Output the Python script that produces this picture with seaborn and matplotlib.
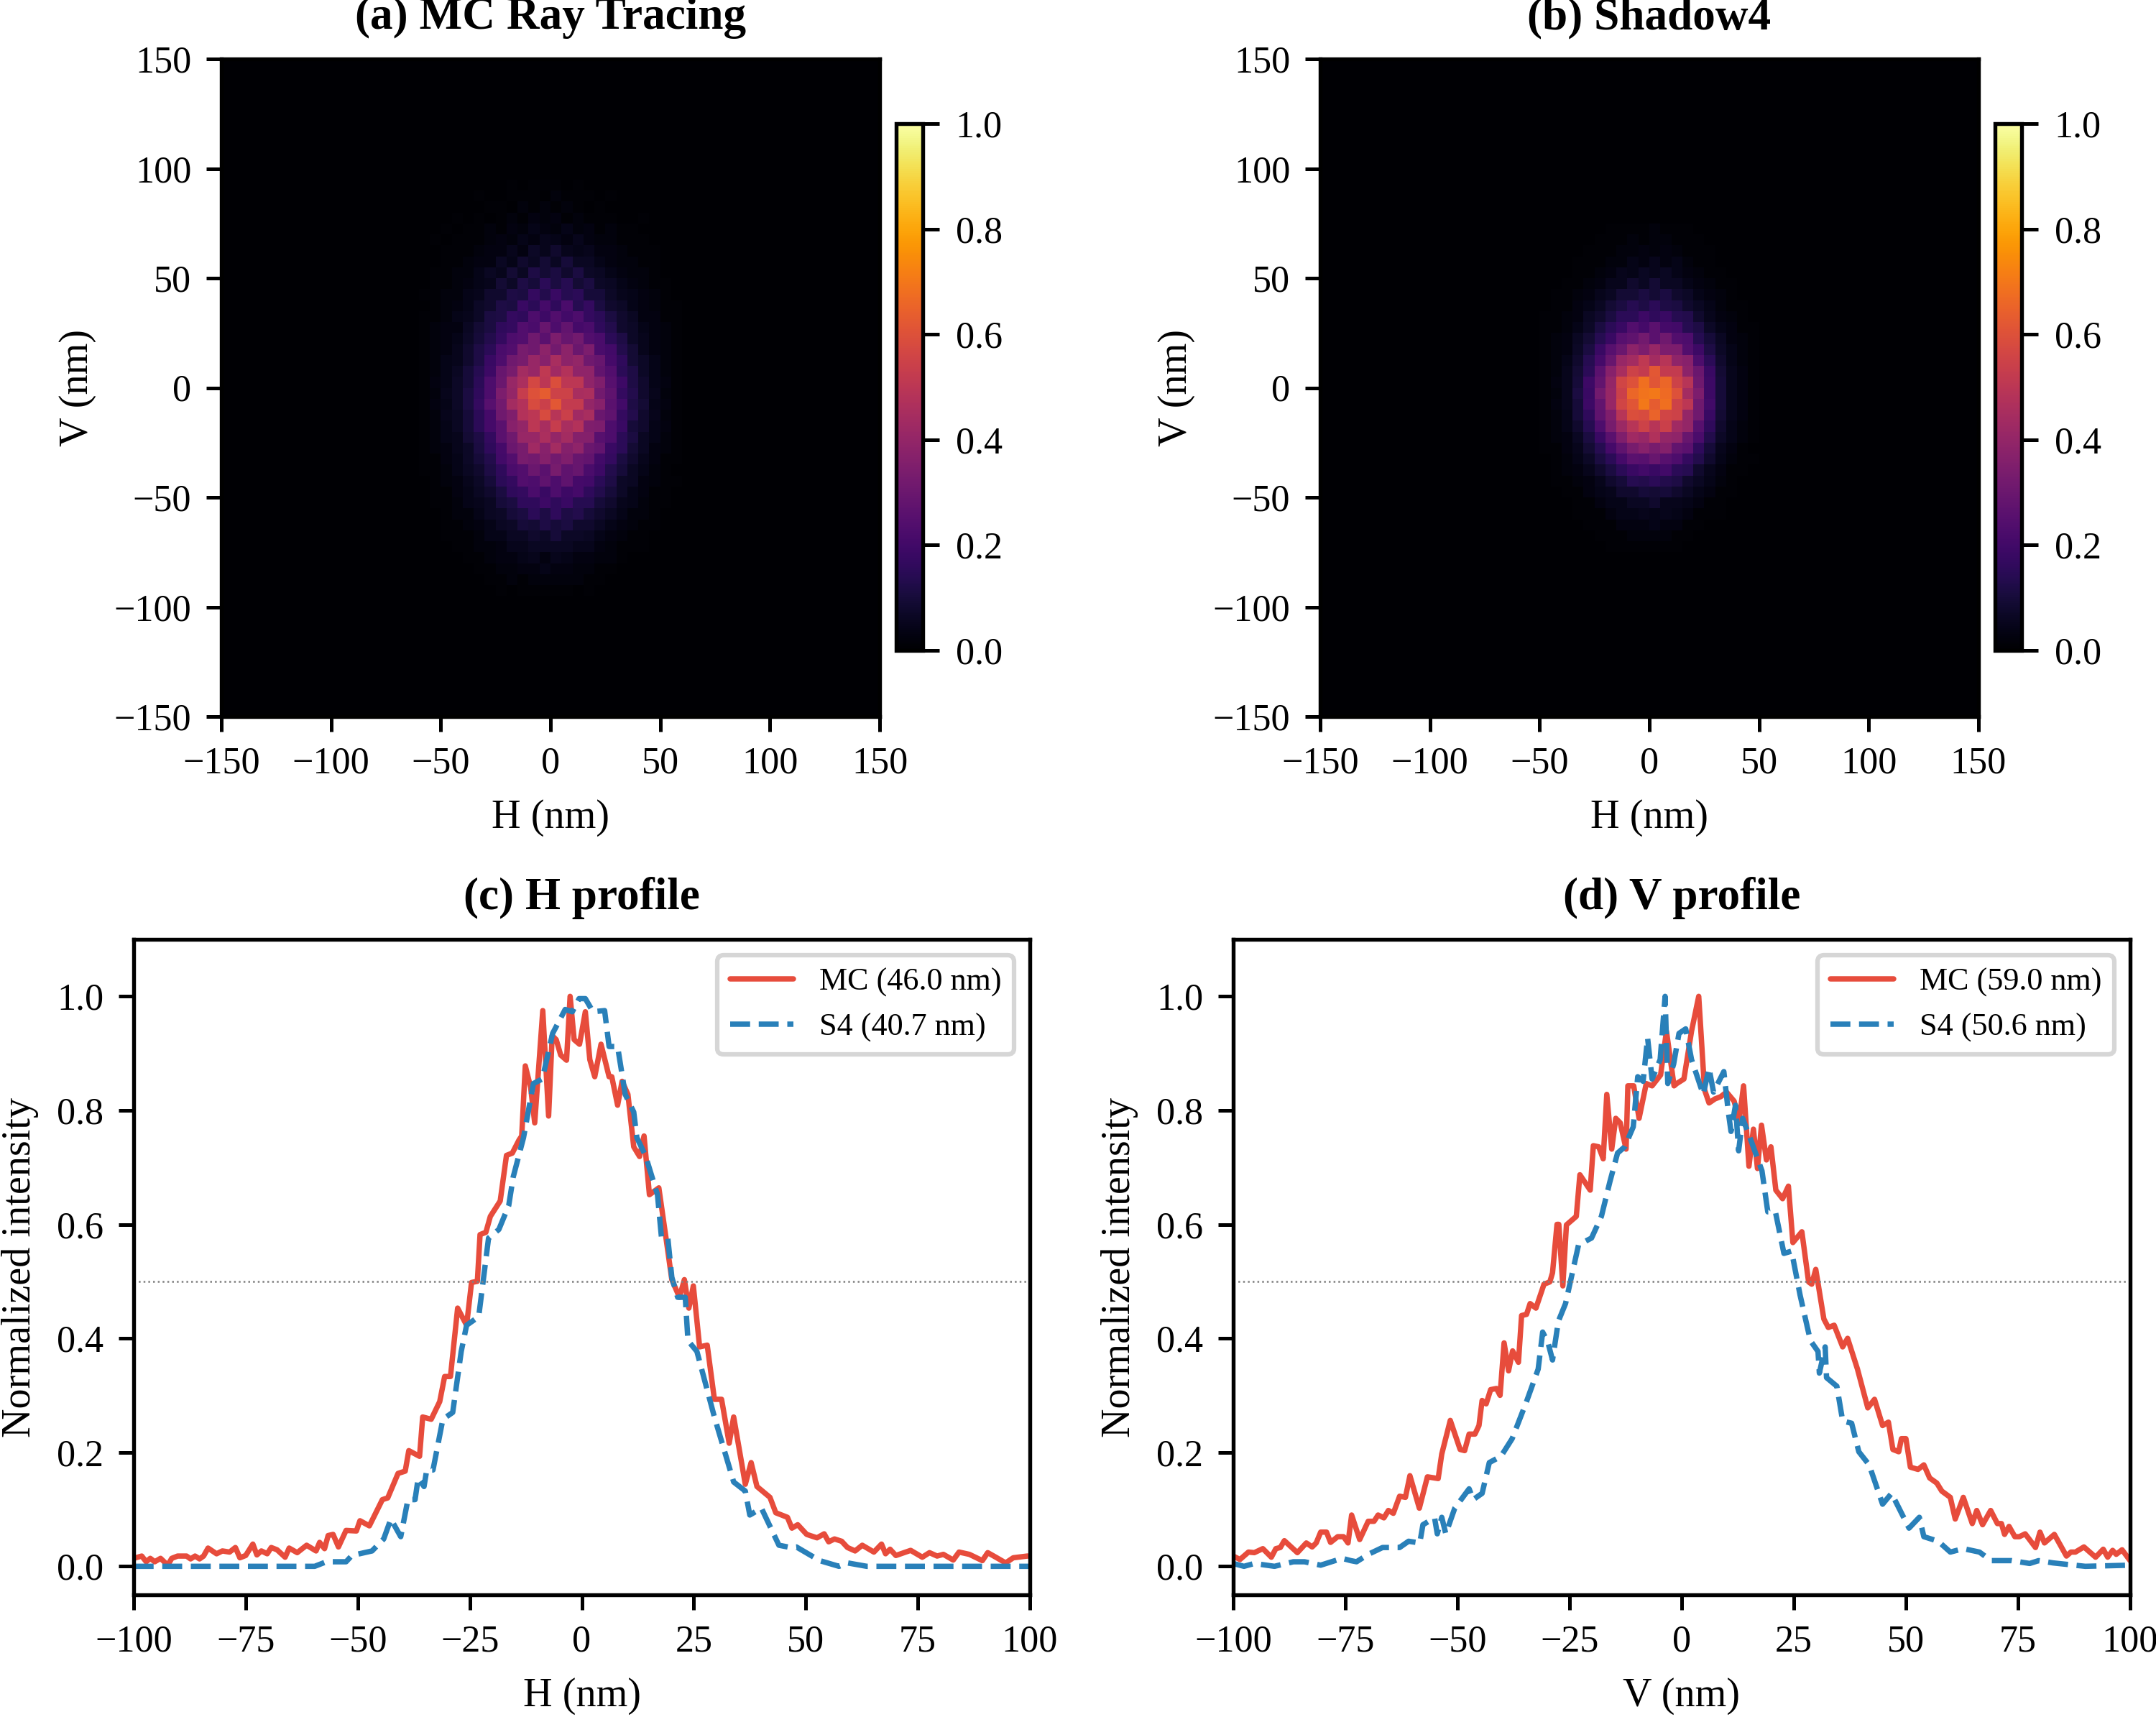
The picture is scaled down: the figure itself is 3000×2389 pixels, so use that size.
import numpy as np
import matplotlib
matplotlib.use('Agg')
import matplotlib.pyplot as plt
import seaborn as sns

# Spot maps, percent of peak, read in 5 nm cells (H -60..60 left to right, top row is the largest V)
spot_mc = [
    [0, 0, 0, 0, 0, 0, 0, 0, 1, 0, 1, 1, 1, 0, 1, 0, 0, 0, 0, 0, 0, 0, 0, 0],
    [0, 0, 0, 0, 0, 1, 0, 0, 1, 1, 1, 0, 2, 1, 1, 1, 0, 1, 0, 0, 0, 0, 0, 0],
    [0, 0, 0, 0, 0, 0, 1, 1, 0, 2, 1, 2, 1, 2, 1, 0, 1, 0, 0, 0, 0, 0, 0, 0],
    [0, 0, 0, 1, 0, 1, 0, 1, 2, 1, 3, 2, 3, 1, 2, 1, 1, 1, 0, 0, 1, 0, 0, 0],
    [0, 0, 1, 0, 1, 1, 2, 1, 3, 2, 4, 3, 2, 4, 2, 3, 1, 2, 1, 1, 0, 0, 0, 0],
    [0, 1, 0, 1, 1, 1, 2, 3, 2, 4, 3, 5, 4, 3, 5, 3, 2, 2, 1, 1, 1, 0, 0, 0],
    [0, 0, 1, 1, 1, 2, 3, 3, 5, 3, 7, 5, 8, 5, 4, 5, 3, 3, 2, 1, 1, 1, 0, 0],
    [0, 0, 1, 1, 2, 3, 3, 6, 4, 8, 6, 9, 6, 10, 6, 6, 4, 3, 2, 2, 1, 1, 0, 0],
    [0, 1, 1, 2, 2, 4, 6, 5, 9, 6, 12, 9, 11, 8, 11, 7, 6, 4, 3, 2, 2, 1, 0, 0],
    [0, 1, 1, 2, 3, 4, 5, 9, 7, 12, 10, 15, 11, 14, 9, 11, 7, 6, 4, 3, 2, 1, 1, 0],
    [1, 1, 2, 2, 4, 5, 8, 8, 12, 11, 17, 13, 18, 14, 15, 10, 10, 7, 5, 4, 3, 2, 1, 0],
    [0, 1, 2, 3, 4, 7, 8, 12, 11, 18, 15, 21, 16, 22, 14, 17, 11, 8, 7, 4, 3, 2, 1, 1],
    [1, 1, 2, 4, 5, 7, 11, 12, 17, 16, 23, 19, 24, 20, 23, 17, 15, 11, 8, 6, 3, 3, 1, 1],
    [1, 2, 3, 3, 6, 9, 11, 16, 17, 24, 22, 29, 23, 28, 21, 22, 16, 13, 8, 7, 4, 3, 2, 1],
    [1, 2, 3, 4, 7, 10, 13, 17, 23, 24, 31, 26, 34, 29, 32, 24, 22, 15, 12, 7, 5, 3, 2, 1],
    [1, 2, 3, 5, 8, 12, 15, 22, 24, 33, 31, 38, 32, 38, 30, 34, 22, 20, 13, 9, 5, 3, 2, 1],
    [1, 2, 4, 5, 8, 12, 18, 23, 31, 33, 41, 37, 45, 38, 40, 31, 29, 21, 16, 9, 7, 4, 2, 1],
    [1, 2, 4, 6, 10, 14, 19, 29, 33, 44, 41, 51, 43, 48, 39, 39, 28, 24, 15, 12, 7, 4, 2, 1],
    [1, 3, 4, 7, 10, 15, 23, 30, 41, 46, 57, 50, 59, 50, 50, 39, 35, 25, 19, 12, 8, 4, 3, 1],
    [1, 2, 5, 7, 11, 16, 23, 34, 40, 53, 60, 63, 55, 55, 45, 46, 32, 27, 17, 13, 8, 5, 2, 1],
    [1, 3, 4, 7, 11, 17, 25, 32, 44, 48, 58, 54, 62, 52, 52, 40, 37, 26, 20, 12, 9, 4, 3, 1],
    [1, 2, 5, 6, 10, 15, 21, 31, 35, 48, 50, 58, 49, 54, 43, 45, 30, 27, 17, 13, 8, 5, 2, 1],
    [1, 2, 4, 6, 10, 15, 21, 26, 37, 40, 50, 45, 53, 45, 48, 35, 34, 23, 18, 10, 8, 4, 3, 1],
    [1, 2, 4, 5, 9, 12, 17, 26, 31, 41, 41, 46, 40, 44, 36, 36, 25, 23, 15, 11, 6, 4, 2, 1],
    [1, 2, 3, 5, 7, 11, 16, 21, 30, 33, 43, 37, 44, 36, 39, 30, 28, 18, 15, 9, 6, 3, 2, 1],
    [1, 1, 3, 4, 7, 10, 13, 20, 24, 33, 32, 36, 32, 35, 29, 28, 20, 17, 11, 8, 5, 3, 1, 1],
    [1, 1, 2, 4, 6, 8, 12, 16, 22, 24, 30, 26, 33, 27, 29, 22, 19, 13, 10, 6, 4, 2, 1, 0],
    [0, 1, 2, 3, 5, 7, 10, 15, 17, 24, 23, 27, 23, 27, 21, 20, 15, 12, 7, 6, 3, 2, 1, 1],
    [0, 1, 1, 3, 4, 6, 8, 11, 16, 17, 22, 18, 23, 19, 21, 16, 13, 10, 7, 4, 3, 1, 1, 0],
    [0, 1, 1, 2, 4, 5, 6, 10, 11, 16, 16, 19, 16, 18, 14, 14, 10, 8, 5, 4, 2, 1, 1, 0],
    [0, 0, 1, 2, 2, 4, 6, 7, 10, 11, 15, 12, 16, 12, 13, 10, 8, 6, 4, 2, 2, 1, 0, 0],
    [0, 0, 1, 1, 2, 3, 4, 6, 7, 10, 9, 12, 10, 11, 8, 8, 6, 4, 3, 2, 1, 1, 0, 0],
    [0, 0, 1, 1, 1, 2, 4, 4, 6, 6, 8, 7, 10, 7, 7, 6, 4, 3, 2, 1, 1, 0, 0, 0],
    [0, 0, 0, 1, 1, 2, 2, 3, 5, 5, 6, 6, 6, 6, 5, 5, 3, 2, 1, 1, 1, 0, 0, 0],
    [0, 0, 0, 0, 1, 1, 2, 3, 3, 4, 5, 3, 5, 4, 3, 3, 2, 2, 1, 0, 0, 0, 0, 0],
    [0, 0, 0, 0, 0, 1, 1, 2, 2, 3, 3, 4, 3, 3, 2, 2, 1, 1, 0, 0, 0, 0, 0, 0],
    [0, 0, 0, 0, 0, 0, 1, 1, 2, 1, 2, 2, 2, 2, 2, 1, 1, 0, 0, 0, 0, 0, 0, 0],
    [0, 0, 0, 0, 0, 0, 0, 1, 0, 1, 1, 1, 1, 1, 0, 1, 0, 0, 0, 0, 0, 0, 0, 0],
]
spot_s4 = [
    [0, 0, 0, 0, 0, 0, 0, 0, 1, 1, 1, 1, 2, 1, 1, 1, 0, 0, 0, 0, 0, 0, 0, 0],
    [0, 0, 0, 0, 0, 0, 0, 1, 1, 1, 2, 1, 2, 2, 1, 1, 1, 0, 0, 0, 0, 0, 0, 0],
    [0, 0, 0, 0, 0, 0, 1, 1, 1, 2, 2, 3, 2, 3, 2, 1, 1, 1, 0, 0, 0, 0, 0, 0],
    [0, 0, 0, 0, 0, 1, 1, 1, 2, 2, 4, 3, 5, 3, 4, 2, 1, 1, 0, 0, 0, 0, 0, 0],
    [0, 0, 0, 0, 0, 1, 1, 2, 3, 5, 4, 6, 5, 6, 4, 3, 2, 1, 1, 0, 0, 0, 0, 0],
    [0, 0, 0, 0, 1, 1, 2, 3, 5, 5, 8, 6, 9, 6, 6, 4, 3, 2, 1, 1, 0, 0, 0, 0],
    [0, 0, 0, 1, 1, 2, 3, 5, 6, 9, 9, 11, 9, 11, 8, 7, 4, 3, 2, 1, 0, 0, 0, 0],
    [0, 0, 0, 1, 1, 3, 4, 6, 9, 11, 14, 12, 15, 12, 11, 8, 6, 4, 2, 1, 1, 0, 0, 0],
    [0, 0, 1, 1, 2, 3, 6, 8, 11, 15, 15, 19, 16, 18, 14, 13, 8, 5, 3, 2, 1, 0, 0, 0],
    [0, 0, 1, 1, 2, 4, 7, 11, 15, 18, 24, 21, 26, 21, 20, 14, 12, 7, 4, 3, 1, 1, 0, 0],
    [0, 0, 1, 2, 3, 6, 9, 14, 18, 25, 27, 32, 26, 31, 24, 23, 14, 10, 6, 3, 2, 1, 0, 0],
    [0, 0, 1, 2, 3, 7, 11, 18, 25, 30, 38, 34, 41, 34, 34, 24, 19, 12, 7, 4, 2, 1, 0, 0],
    [0, 0, 1, 2, 4, 8, 14, 21, 29, 41, 44, 51, 44, 49, 39, 37, 23, 15, 8, 4, 2, 1, 0, 0],
    [0, 0, 1, 2, 5, 9, 15, 26, 37, 45, 55, 52, 62, 52, 52, 38, 30, 18, 9, 5, 3, 1, 0, 0],
    [0, 0, 1, 3, 5, 10, 19, 28, 40, 56, 60, 68, 61, 66, 55, 49, 31, 19, 10, 5, 3, 1, 0, 0],
    [0, 0, 1, 2, 5, 11, 18, 32, 41, 54, 66, 69, 70, 67, 60, 44, 34, 19, 10, 5, 3, 1, 0, 0],
    [0, 0, 1, 3, 5, 10, 19, 28, 41, 56, 61, 70, 63, 68, 55, 50, 31, 20, 10, 5, 3, 1, 0, 0],
    [0, 0, 1, 2, 4, 10, 16, 27, 35, 49, 59, 58, 65, 56, 55, 40, 31, 18, 9, 5, 3, 1, 0, 0],
    [0, 0, 1, 2, 4, 8, 14, 23, 33, 42, 49, 55, 49, 54, 43, 40, 25, 16, 8, 4, 2, 1, 0, 0],
    [0, 0, 1, 2, 3, 6, 11, 18, 26, 35, 43, 41, 47, 40, 39, 29, 22, 13, 7, 4, 2, 1, 0, 0],
    [0, 0, 1, 1, 3, 5, 9, 14, 21, 27, 33, 37, 33, 36, 28, 26, 16, 10, 5, 3, 1, 0, 0, 0],
    [0, 0, 0, 1, 2, 4, 7, 11, 15, 21, 26, 25, 29, 25, 23, 17, 13, 8, 4, 2, 1, 1, 0, 0],
    [0, 0, 0, 1, 2, 3, 5, 8, 11, 15, 18, 20, 18, 20, 15, 14, 8, 5, 3, 1, 1, 0, 0, 0],
    [0, 0, 0, 1, 1, 2, 3, 5, 8, 10, 14, 13, 15, 13, 12, 8, 6, 4, 2, 1, 0, 0, 0, 0],
    [0, 0, 0, 0, 1, 1, 3, 4, 5, 8, 8, 10, 9, 10, 8, 6, 4, 3, 1, 1, 0, 0, 0, 0],
    [0, 0, 0, 0, 0, 1, 1, 3, 4, 4, 6, 6, 8, 5, 5, 4, 3, 1, 1, 0, 0, 0, 0, 0],
    [0, 0, 0, 0, 0, 1, 1, 1, 3, 4, 4, 5, 4, 5, 4, 3, 1, 1, 1, 0, 0, 0, 0, 0],
    [0, 0, 0, 0, 0, 0, 1, 1, 1, 3, 3, 3, 4, 3, 3, 1, 1, 0, 0, 0, 0, 0, 0, 0],
    [0, 0, 0, 0, 0, 0, 0, 1, 1, 1, 2, 2, 2, 2, 1, 1, 0, 0, 0, 0, 0, 0, 0, 0],
    [0, 0, 0, 0, 0, 0, 0, 0, 1, 1, 1, 1, 1, 1, 1, 0, 0, 0, 0, 0, 0, 0, 0, 0],
]

# H profile, Monte Carlo
h_mc_x = [-100, -98.2, -97.2, -96.3, -95.3, -94, -92.4, -91.5, -90.2, -88.2, -87.3, -86.3, -85.3, -84.4, -83.4, -81.5,
          -80.2, -78.6, -77.3, -76.3, -75, -73.4, -72.5, -71.5, -70.2, -69.3, -68, -66.2, -65.3, -63.5, -61.4, -59.3,
          -58.5, -57.4, -56.6, -55.5, -54.3, -52.6, -50.3, -49.5, -47.4, -44.5, -43.3, -41, -39.4, -38.6, -36.2, -35.5,
          -33.6, -31.7, -30.6, -29.3, -27.7, -25.7, -24.6, -23.3, -22.7, -21.4, -20.4, -18.2, -16.8, -15.5, -14, -13.4,
          -12.6, -11.4, -10.5, -8.7, -7.4, -6.6, -5.7, -4.7, -3.4, -2.6, -1.7, -0.5, 0.8, 1.8, 2.9, 4.3, 6.1, 6.7, 8, 9,
          10.3, 11.6, 12.9, 13.9, 15.1, 17.2, 18.8, 20.1, 21.8, 22.9, 23.9, 24.9, 26.3, 28, 29.6, 31.2, 32.9, 33.9, 36.5,
          37.8, 39.1, 42, 43.3, 45.9, 46.9, 48.2, 50.2, 52.5, 54.1, 55.1, 56.4, 58, 59.3, 61, 62.6, 65.2, 66.9, 67.8,
          68.8, 70.1, 73.4, 76, 77.6, 79.3, 80.7, 82.9, 84.2, 86.5, 89.4, 90.6, 92.4, 94.6, 96.3, 99.4, 100]
h_mc_y = [.014, .018, .008, .014, .008, .014, .002, .014, .018, .018, .013, .018, .013, .018, .032, .022,
          .027, .025, .033, .015, .019, .039, .02, .027, .022, .033, .029, .016, .032, .024, .037, .027,
          .042, .031, .054, .056, .034, .063, .062, .08, .071, .117, .12, .163, .167, .203, .193, .262,
          .258, .289, .333, .333, .453, .423, .498, .5, .582, .586, .614, .641, .721, .725, .748, .755,
          .878, .84, .778, .975, .79, .931, .924, .897, .888, 1.0, .924, .916, .973, .889, .859, .916, .859, .859, .809, .851,
          .828, .736, .719, .755, .652, .664, .576, .503, .472, .503, .453, .492, .385, .388, .293, .293, .216, .262, .144,
          .182, .14, .121, .094, .086, .067, .073, .056, .05, .057, .043, .048, .044, .033, .027, .037, .025, .039, .022,
          .03, .019, .028, .016, .024, .018, .021, .011, .025, .021, .01, .024, .016, .006, .015, .018, .018]

# H profile, Shadow4
h_s4_x = [-100, -98.8, -59.6, -57, -52.6, -51.3, -46.8, -44.2, -42.6, -40.4, -38.8, -37.2, -36.5, -35.2, -34.6, -33.2,
          -31, -28.8, -26.9, -25.7, -23, -20.8, -18.5, -16.3, -15.3, -13, -10.8, -8.8, -6.5, -3.7, -2.1, -0.6, 0.8, 2.5,
          5.1, 6.1, 8, 9.7, 11.6, 12.3, 14.2, 16.9, 17.8, 19.2, 20.1, 21.4, 23.1, 23.7, 25.7, 29.6, 33.9, 36.5, 37.5,
          40.1, 44, 46.6, 47.9, 53.1, 57.4, 59.3, 63.6, 100]
h_s4_y = [0, 0, 0, .008, .008, .019, .027, .048, .083, .052, .117, .117, .155, .14, .169, .169,
          .258, .27, .377, .423, .438, .576, .591, .633, .683, .752, .847, .855, .935, .977, .973, .996, .996, .973,
          .975, .912, .912, .828, .797, .752, .721, .652, .576, .576, .507, .472, .472, .396, .377, .262, .148, .132, .09,
          .102, .037, .033, .034, .01, 0, .006, 0, 0]

# V profile, Monte Carlo
v_mc_x = [-100, -98.5, -96.6, -95.3, -93.4, -91.5, -90.5, -89.5, -88.6, -85.7, -83.7, -82.4, -81.5, -80.5, -79.2, -78.3,
          -76.7, -75.4, -74.4, -73.6, -71.8, -69.9, -68.6, -67.7, -66.4, -65.4, -64.3, -62.9, -61.6, -60.6, -58.5, -56.7,
          -54.3, -53.5, -51.6, -49.4, -48.4, -47.4, -46.1, -45.2, -44.5, -43.6, -42.6, -41.3, -40.5, -39.6, -38.6, -37.7,
          -36.4, -35.7, -34.6, -33.8, -32.5, -30.7, -29.4, -28.8, -27.8, -27.4, -26.5, -25.7, -23.5, -22.7, -20.4, -19.7,
          -18.5, -17.5, -16.7, -15.6, -14.7, -13.7, -12.4, -12, -10.7, -9.5, -7.9, -6.6, -4.7, -3.4, -1.7, -1.1, 0.5, 2.2,
          3.8, 5.1, 6.1, 7.4, 8.7, 10, 11.7, 12.8, 13.8, 15, 16, 16.9, 17.8, 18.9, 19.9, 21, 22.5, 23.8, 24.8, 26.8, 28.3,
          29, 29.9, 31.7, 32.7, 34, 35.9, 37, 39.2, 41.5, 43, 44.8, 46.1, 47.1, 48.4, 49, 50, 51, 52.7, 54, 55.3, 56.9, 58,
          59.9, 61, 62.8, 64.8, 65.8, 67.1, 68.9, 70.4, 71.3, 72, 73, 74.3, 75.3, 76.6, 78.9, 79.9, 80.9, 83.1, 85.8, 86.8,
          87.8, 89.7, 92.3, 94, 95, 96.1, 96.9, 98.2, 100]
v_mc_y = [.018, .012, .025, .024, .031, .016, .031, .033, .045, .024, .041, .034, .041, .06, .06, .042,
          .052, .052, .041, .09, .047, .079, .079, .09, .085, .098, .093, .123, .121, .159, .102, .157,
          .154, .197, .256, .205, .203, .232, .232, .247, .291, .285, .31, .312, .3, .392, .343, .378,
          .358, .44, .442, .461, .453, .495, .499, .515, .6, .6, .492, .599, .614, .687, .66, .738,
          .736, .715, .828, .732, .786, .778, .732, .843, .843, .786, .847, .843, .862, .939, .843, .847, .855, .939,
          1.0, .836, .813, .82, .824, .832, .816, .782, .843, .702, .767, .698, .774, .713, .736, .66, .645, .667, .568, .587, .499,
          .495, .521, .434, .419, .423, .385, .4, .346, .278, .293, .247, .253, .205, .201, .224, .224, .174, .17, .178, .155, .146, .132,
          .121, .083, .121, .075, .098, .073, .098, .075, .075, .056, .07, .052, .052, .057, .033, .06, .041, .056, .018, .025,
          .025, .034, .016, .03, .016, .028, .021, .029, .01]

# V profile, Shadow4
v_s4_x = [-100, -97.6, -95.3, -90.8, -86.6, -84.1, -80.5, -75.7, -73.8, -72.5, -69.9, -66.7, -62.9, -60.9, -58.4, -57.7,
          -55.1, -54.5, -53.5, -52.6, -50.6, -47.4, -46.5, -44.5, -42.9, -40.3, -37.8, -34.6, -32, -31, -29.8, -28.8,
          -27.5, -25.9, -23, -20.1, -17.9, -16, -14.3, -12.7, -10.8, -9.8, -8.6, -7.6, -6.6, -4.8, -3.7, -3.1, -1.8, -0.6,
          0.9, 2.2, 4.8, 6.1, 7.1, 9.4, 10.4, 11, 12, 12.7, 13.6, 15.6, 17.9, 19.2, 20.9, 22.8, 24.5, 26.4, 28.7, 30.4,
          30.7, 32, 32.3, 34.6, 35.9, 37.9, 39.5, 41.8, 44.8, 46.8, 50.7, 53, 54, 57.2, 59.9, 62.8, 66.4, 69, 73.6, 77.6,
          79.6, 82.8, 90, 100]
v_s4_y = [.005, 0, .005, 0, .008, .008, .002, .014, .01, .008, .021, .033, .033, .044, .041, .073,
          .085, .057, .086, .057, .102, .136, .117, .128, .182, .193, .224, .289, .346, .411, .392, .362,
          .43, .461, .564, .576, .614, .675, .725, .736, .771, .859, .851, .927, .855, .889, 1.0, .847, .881, .935,
          .943, .889, .828, .874, .832, .868, .797, .763, .809, .729, .786, .744, .694, .622, .622, .549, .553, .476, .396, .377,
          .339, .385, .331, .316, .255, .251, .201, .178, .109, .128, .067, .086, .052, .044, .025, .031, .025, .01, .01, .005,
          .01, .006, 0, .002]

map_ticks = [-150, -100, -50, 0, 50, 100, 150]
profile_ticks = [-100, -75, -50, -25, 0, 25, 50, 75, 100]
titles = ['(a) MC Ray Tracing', '(b) Shadow4', '(c) H profile', '(d) V profile']
legend_h = ['MC (46.0 nm)', 'S4 (40.7 nm)']
legend_v = ['MC (59.0 nm)', 'S4 (50.6 nm)']

RED = '#e74c3c'
BLUE = '#2980b9'
W, H = 3000, 2389

sns.set_theme(style='ticks')
plt.rcParams['font.family'] = ['Liberation Serif']
plt.rcParams['font.size'] = 12
plt.rcParams['axes.linewidth'] = 1.3
plt.rcParams['xtick.color'] = 'black'
plt.rcParams['ytick.color'] = 'black'
plt.rcParams['text.color'] = 'black'
plt.rcParams['axes.labelcolor'] = 'black'


def box(x0, y0, x1, y1):
    return [x0 / W, 1 - y1 / H, (x1 - x0) / W, (y1 - y0) / H]


def minus(v):
    return f'{v}'.replace('-', '\u2212')


fig = plt.figure(figsize=(10, 2389 / 300))

# top row: spot maps
for spot, title, ax_box, cb_box in [
    (spot_mc, titles[0], box(308, 82, 1224, 997), box(1247, 172, 1284, 905)),
    (spot_s4, titles[1], box(1837, 82, 2753, 997), box(2776, 172, 2813, 905)),
]:
    ax = fig.add_axes(ax_box)
    cax = fig.add_axes(cb_box)
    # pad the read cells out to the whole +-150 nm frame
    cells = np.array(spot) / 100
    rows = (60 - cells.shape[0]) // 2
    grid = np.pad(cells, ((rows, rows), (18, 18)))
    sns.heatmap(grid, ax=ax, cbar_ax=cax, cmap='inferno', vmin=0, vmax=1,
                xticklabels=False, yticklabels=False, rasterized=True)
    for s in ax.spines.values():
        s.set_visible(True)
        s.set_color('black')
        s.set_linewidth(1.3)
    ax.set_xticks([(v + 150) / 5 for v in map_ticks])
    ax.set_xticklabels([minus(v) for v in map_ticks], rotation=0)
    ax.set_yticks([(150 - v) / 5 for v in map_ticks])
    ax.set_yticklabels([minus(v) for v in map_ticks], rotation=0)
    ax.tick_params(left=True, bottom=True, labelsize=12.5, length=5, width=1.2, pad=5)
    ax.set_xlabel('H (nm)', fontsize=13.5, labelpad=6)
    ax.set_ylabel('V (nm)', fontsize=13.5, labelpad=6)
    ax.set_title(title, fontsize=15.2, fontweight='bold', pad=10)
    cbar = ax.collections[0].colorbar
    cbar.set_ticks([0, 0.2, 0.4, 0.6, 0.8, 1.0])
    cbar.ax.tick_params(labelsize=12.5, length=5.5, width=1.2, right=True, pad=5.5)
    cbar.outline.set_visible(True)
    cbar.outline.set_edgecolor('black')
    cbar.outline.set_linewidth(1.3)

# bottom row: profiles
for mc_x, mc_y, s4_x, s4_y, labels, title, xlab, ax_box in [
    (h_mc_x, h_mc_y, h_s4_x, h_s4_y, legend_h, titles[2], 'H (nm)', box(186, 1307, 1433, 2219)),
    (v_mc_x, v_mc_y, v_s4_x, v_s4_y, legend_v, titles[3], 'V (nm)', box(1716, 1307, 2964, 2219)),
]:
    ax = fig.add_axes(ax_box)
    sns.lineplot(x=mc_x, y=mc_y, ax=ax, color=RED, lw=1.8, label=labels[0], estimator=None, sort=False)
    sns.lineplot(x=s4_x, y=s4_y, ax=ax, color=BLUE, lw=1.8, linestyle='--', label=labels[1], estimator=None, sort=False)
    ax.axhline(0.5, color='gray', lw=0.6, ls=':')
    ax.set_xlim(-100, 100)
    ax.set_ylim(-0.05, 1.1)
    ax.set_xticks(profile_ticks)
    ax.set_xticklabels([minus(v) for v in profile_ticks])
    ax.set_yticks([0, 0.2, 0.4, 0.6, 0.8, 1.0])
    ax.tick_params(labelsize=12.5, length=5, width=1.2, pad=5)
    ax.set_xlabel(xlab, fontsize=13.5, labelpad=6)
    ax.set_ylabel('Normalized intensity', fontsize=13.5, labelpad=6)
    ax.set_title(title, fontsize=15.2, fontweight='bold', pad=10)
    leg = ax.legend(loc='upper right', fontsize=10.6, framealpha=0.8, edgecolor='0.8')
    leg.get_frame().set_linewidth(1.5)
    for s in ax.spines.values():
        s.set_color('black')

fig.savefig('out.png', dpi=300)
